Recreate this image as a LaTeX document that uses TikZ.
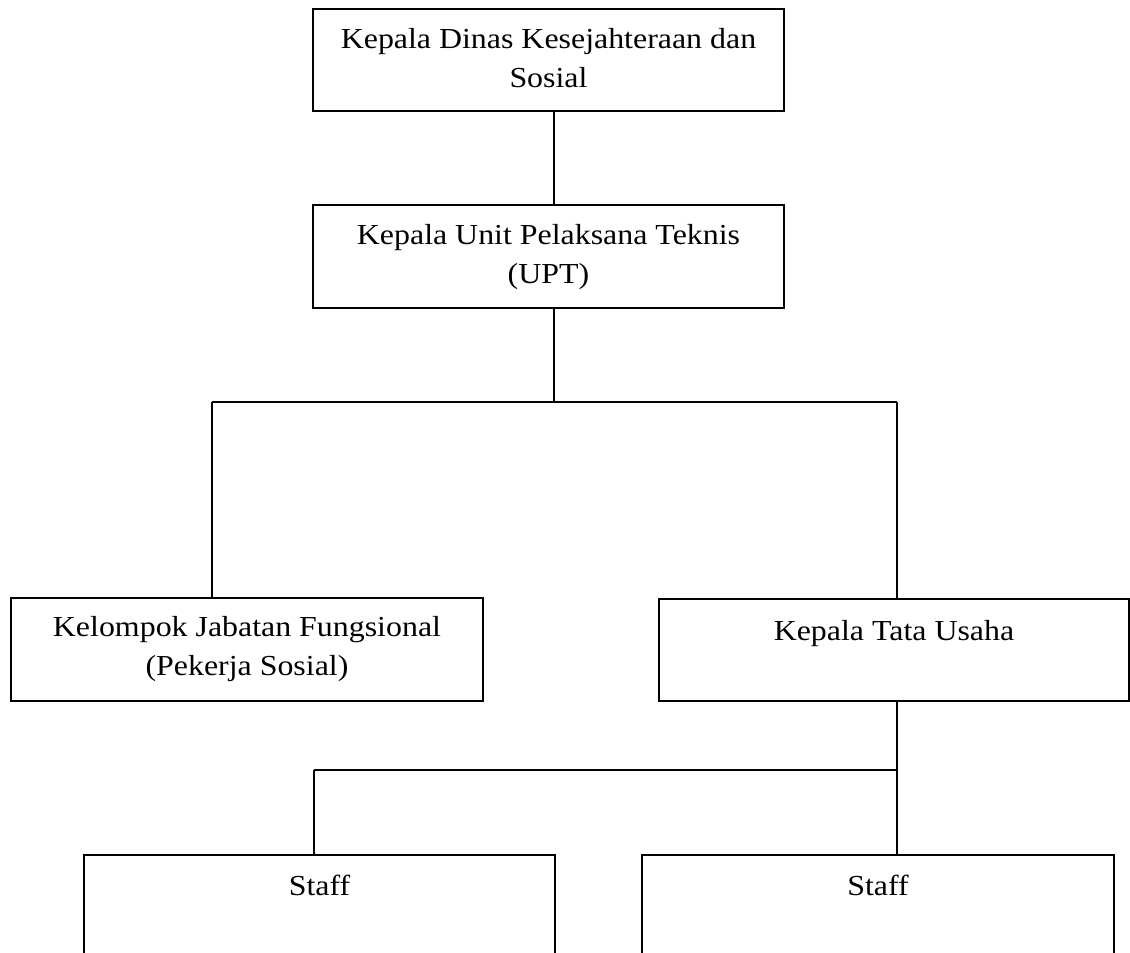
\documentclass[tikz,border=0pt]{standalone}
\usepackage{fontspec}
\setmainfont{Liberation Serif}[FakeStretch=1.1]
\begin{document}
\begin{tikzpicture}[x=1pt,y=-1pt,
  box/.style={draw=black,line width=1.4pt,rectangle,inner sep=0pt,minimum width=#1},
  lbl/.style={anchor=base,align=center,inner sep=0pt,font=\fontsize{29}{39}\selectfont},
  conn/.style={draw=black,line width=1.4pt}]
\useasboundingbox (0,0) rectangle (1130,953);
\clip (0,0) rectangle (1130,953);
% boxes
\node[box=471pt,minimum height=102pt] (top) at (548.5,60) {};
\node[box=471pt,minimum height=103pt] (upt) at (548.5,256.5) {};
\node[box=472pt,minimum height=103pt] (kel) at (247,649.5) {};
\node[box=470pt,minimum height=102pt] (ktu) at (894,650) {};
\node[box=471pt,minimum height=200pt] (st1) at (319.5,955) {};
\node[box=472pt,minimum height=200pt] (st2) at (878,955) {};
% texts (base = baseline of last line)
\node[lbl] (ttop) at (548.5,87) {Kepala Dinas Kesejahteraan dan\\Sosial};
\node[lbl] (tupt) at (548.5,283) {Kepala Unit Pelaksana Teknis\\(UPT)};
\node[lbl] (tkel) at (247,675) {Kelompok Jabatan Fungsional\\(Pekerja Sosial)};
\node[lbl] (tktu) at (894,640) {Kepala Tata Usaha};
\node[lbl] (tst1) at (319.5,895) {Staff};
\node[lbl] (tst2) at (878,895) {Staff};
% junction coordinates
\coordinate (ja) at (554,402);
\coordinate (jl) at (212,402);
\coordinate (jr) at (897,402);
\coordinate (jb) at (897,770);
\coordinate (jbl) at (314,770);
% connectors
\draw[conn] (top.south -| ja) -- (upt.north -| ja);
\draw[conn] (upt.south -| ja) -- (ja);
\draw[conn] (jl) -- (jr);
\draw[conn] (jl) -- (kel.north -| jl);
\draw[conn] (jr) -- (ktu.north -| jr);
\draw[conn] (ktu.south -| jb) -- (st2.north -| jb);
\draw[conn] (jbl) -- (jb);
\draw[conn] (jbl) -- (st1.north -| jbl);
\end{tikzpicture}
\end{document}
